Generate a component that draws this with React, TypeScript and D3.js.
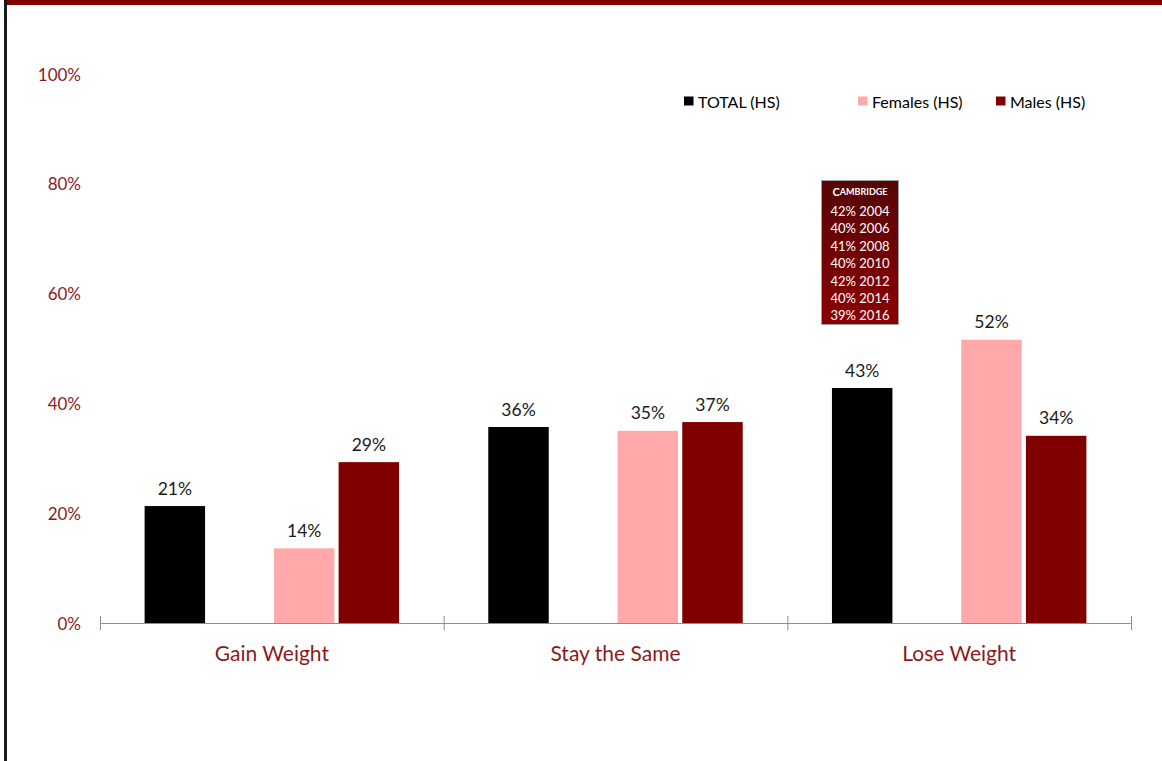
import React from "react";
import * as d3 from "d3";

const categories = ["Gain Weight", "Stay the Same", "Lose Weight"];
const seriesNames = ["TOTAL (HS)", "", "Females (HS)", "Males (HS)"];
const totalValues = [21.3, 35.7, 42.8];
const hiddenValues = [0, 0, 0];
const femaleValues = [13.6, 35.0, 51.6];
const maleValues = [29.3, 36.6, 34.1];
const yTicks = [0, 20, 40, 60, 80, 100];
const cambridgeTitle = "Cambridge";
const cambridgeLines = ["42% 2004", "40% 2006", "41% 2008", "40% 2010", "42% 2012", "40% 2014", "39% 2016"];

const W = 1162;
const H = 761;
const FONT = "Lato, 'Open Sans', sans-serif";
const RED_TEXT = "#8b1a1a";
const colors = ["#000000", "none", "#ffa9aa", "#800000"];

export default function App() {
  const seriesValues = [totalValues, hiddenValues, femaleValues, maleValues];
  const x0 = d3.scaleBand<string>().domain(categories).range([100, 1131]).padding(0);
  const x1 = d3
    .scaleBand<string>()
    .domain(seriesNames.map((_, i) => String(i)))
    .range([0, x0.bandwidth()])
    .paddingInner(0.065)
    .paddingOuter(0.69);
  const y = d3.scaleLinear().domain([0, 100]).range([623, 74]);

  const legendX = [684, 0, 858, 996];

  return (
    <svg
      width={W}
      height={H}
      style={{ position: "fixed", left: 0, top: 0, display: "block", background: "#fff" }}
      fontFamily={FONT}
    >
      <rect x={0} y={0} width={W} height={H} fill="#fff" />
      {/* frame */}
      <rect x={5} y={0} width={W - 5} height={5} fill="#800000" />
      <rect x={4} y={0} width={3} height={H} fill="#1a1a1a" />

      {/* y tick labels */}
      {yTicks.map((t) => (
        <text
          key={t}
          x={81}
          y={y(t)}
          textAnchor="end"
          dominantBaseline="central"
          fontSize={17}
          fill={RED_TEXT}
        >
          {t}%
        </text>
      ))}

      {/* bars */}
      {categories.map((c, ci) =>
        seriesValues.map((vals, si) => {
          if (colors[si] === "none") return null;
          const v = vals[ci];
          const bx = (x0(c) as number) + (x1(String(si)) as number);
          const bw = x1.bandwidth();
          return (
            <g key={c + si}>
              <rect x={bx} y={y(v)} width={bw} height={y(0) - y(v)} fill={colors[si]} />
              <text
                x={bx + bw / 2}
                y={y(v) - 11.5}
                textAnchor="middle"
                fontSize={17.5}
                fill="#1a1a1a"
              >
                {Math.round(v)}%
              </text>
            </g>
          );
        })
      )}

      {/* x axis */}
      <line x1={100} x2={1131} y1={623.5} y2={623.5} stroke="#8c8c8c" strokeWidth={1} />
      {[...categories.map((c) => x0(c) as number), 1131].map((tx, i) => (
        <line key={i} x1={tx + 0.5} x2={tx + 0.5} y1={616} y2={630} stroke="#8c8c8c" strokeWidth={1} />
      ))}
      {categories.map((c) => (
        <text
          key={c}
          x={(x0(c) as number) + x0.bandwidth() / 2}
          y={652}
          textAnchor="middle"
          dominantBaseline="central"
          fontSize={21}
          fill={RED_TEXT}
        >
          {c}
        </text>
      ))}

      {/* legend */}
      {seriesNames.map((n, i) =>
        n ? (
          <g key={n}>
            <rect x={legendX[i]} y={96.5} width={9.5} height={9} fill={colors[i]} />
            <text x={legendX[i] + 14} y={101} dominantBaseline="central" fontSize={16} fill="#000">
              {n}
            </text>
          </g>
        ) : null
      )}

      {/* Cambridge box */}
      <defs>
        <linearGradient id="camb" x1="0" y1="0" x2="0" y2="1">
          <stop offset="0%" stopColor="#550505" />
          <stop offset="100%" stopColor="#8c0000" />
        </linearGradient>
      </defs>
      <rect x={821.5} y={180.5} width={77} height={144} fill="url(#camb)" stroke="#a0a0a0" strokeWidth={1} />
      <text x={860} y={191} textAnchor="middle" dominantBaseline="central" fill="#fff" fontWeight="bold" fontSize={11}>
        <tspan>{cambridgeTitle[0].toUpperCase()}</tspan>
        <tspan fontSize={9}>{cambridgeTitle.slice(1).toUpperCase()}</tspan>
      </text>
      {cambridgeLines.map((l, i) => (
        <text
          key={l}
          x={860}
          y={211 + i * 17.4}
          textAnchor="middle"
          dominantBaseline="central"
          fill="#fff"
          fontSize={13}
        >
          {l}
        </text>
      ))}
    </svg>
  );
}
